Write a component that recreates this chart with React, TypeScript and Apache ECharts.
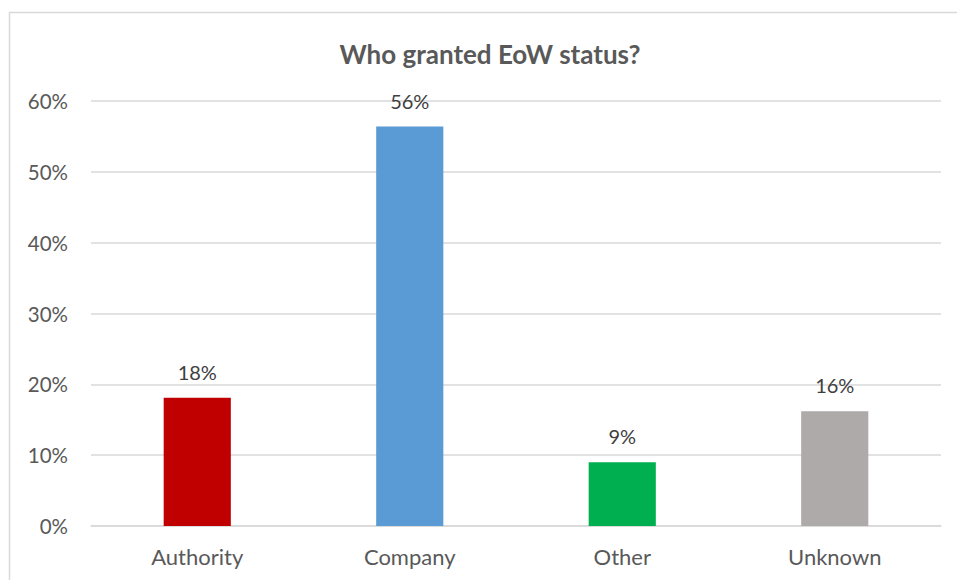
import React, { useEffect, useRef } from "react";
import * as echarts from "echarts";

const categories = ["Authority", "Company", "Other", "Unknown"];
const values = [18.1, 56.4, 9.0, 16.2];
const barColors = ["#C00000", "#5B9BD5", "#00B050", "#AEAAAA"];
const yTicks = [0, 10, 20, 30, 40, 50, 60];

export default function App() {
  const ref = useRef<HTMLDivElement>(null);
  useEffect(() => {
    if (!ref.current) return;
    const chart = echarts.init(ref.current, null, { renderer: "svg" });
    const font = "Lato, 'Open Sans', sans-serif";
    chart.setOption({
      animation: false,
      backgroundColor: "#ffffff",
      title: {
        text: "Who granted EoW status?",
        left: 485,
        textAlign: "center",
        top: 36,
        textStyle: { fontFamily: font, fontSize: 26, fontWeight: "bold", color: "#595959" },
      },
      graphic: [
        {
          type: "rect",
          shape: { x: 9.5, y: 12.5, width: 960, height: 600 },
          style: { fill: "none", stroke: "#D9D9D9", lineWidth: 1.5 },
          silent: true,
        },
      ],
      grid: { left: 91, right: 16, top: 101, bottom: 54, containLabel: false },
      xAxis: {
        type: "category",
        data: categories,
        axisLine: { show: true, lineStyle: { color: "#D9D9D9", width: 1.5 } },
        axisTick: { show: false },
        axisLabel: { fontFamily: font, fontSize: 22, color: "#595959", margin: 19 },
      },
      yAxis: {
        type: "value",
        min: yTicks[0],
        max: yTicks[yTicks.length - 1],
        interval: 10,
        axisLine: { show: false },
        axisTick: { show: false },
        splitLine: { lineStyle: { color: "#D9D9D9", width: 1.5 } },
        axisLabel: {
          fontFamily: font,
          fontSize: 20.5,
          color: "#595959",
          margin: 23,
          formatter: (v: number) => `${v}%`,
        },
      },
      series: [
        {
          type: "bar",
          barWidth: "31.6%",
          data: values.map((v, i) => ({ value: v, itemStyle: { color: barColors[i] } })),
          label: {
            show: true,
            position: "top",
            distance: 16,
            fontFamily: font,
            fontSize: 20,
            color: "#404040",
            formatter: (p: any) => `${Math.round(p.value)}%`,
          },
        },
      ],
    });
    return () => chart.dispose();
  }, []);
  return (
    <div
      ref={ref}
      style={{ position: "fixed", left: 0, top: 0, width: 957, height: 580 }}
    />
  );
}
